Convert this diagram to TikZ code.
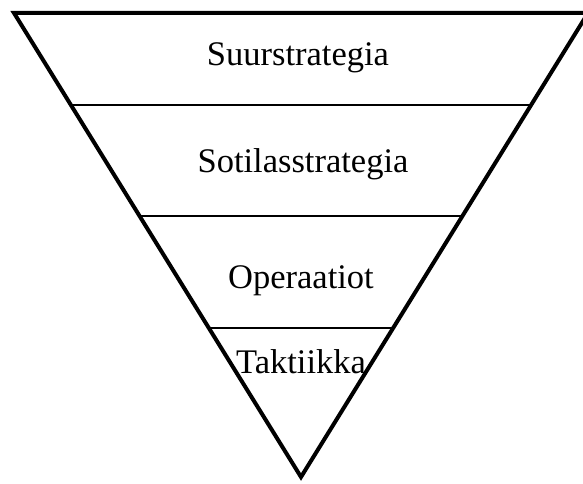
\documentclass[tikz,border=0pt]{standalone}
\usepackage{fontspec}
\setmainfont{Liberation Serif}
\usetikzlibrary{calc}
\begin{document}
\begin{tikzpicture}[x=1pt,y=-1pt,
  side/.style={line width=4pt,line join=miter},
  level/.style={line width=1.4pt},
  lbl/.style={anchor=base,inner sep=0pt,font=\fontsize{34.5}{40}\selectfont}]
\useasboundingbox (0,0) rectangle (583,484);
\coordinate (tl) at (14,13);
\coordinate (tr) at (588,13);
\coordinate (ap) at (301,477);
\draw[side] (tl) -- (tr) -- (ap) -- cycle;
\coordinate (l1) at ($(tl)!0.1983!(ap)$);
\coordinate (r1) at ($(tr)!0.1983!(ap)$);
\coordinate (l2) at ($(tl)!0.4375!(ap)$);
\coordinate (r2) at ($(tr)!0.4375!(ap)$);
\coordinate (l3) at ($(tl)!0.6789!(ap)$);
\coordinate (r3) at ($(tr)!0.6789!(ap)$);
\draw[level] (l1) -- (r1);
\draw[level] (l2) -- (r2);
\draw[level] (l3) -- (r3);
\node[lbl] (suur) at (298,66) {Suurstrategia};
\node[lbl] (soti) at (303,172) {Sotilasstrategia};
\node[lbl] (oper) at (301,288) {Operaatiot};
\node[lbl] (takt) at (301,373) {Taktiikka};
\end{tikzpicture}
\end{document}
